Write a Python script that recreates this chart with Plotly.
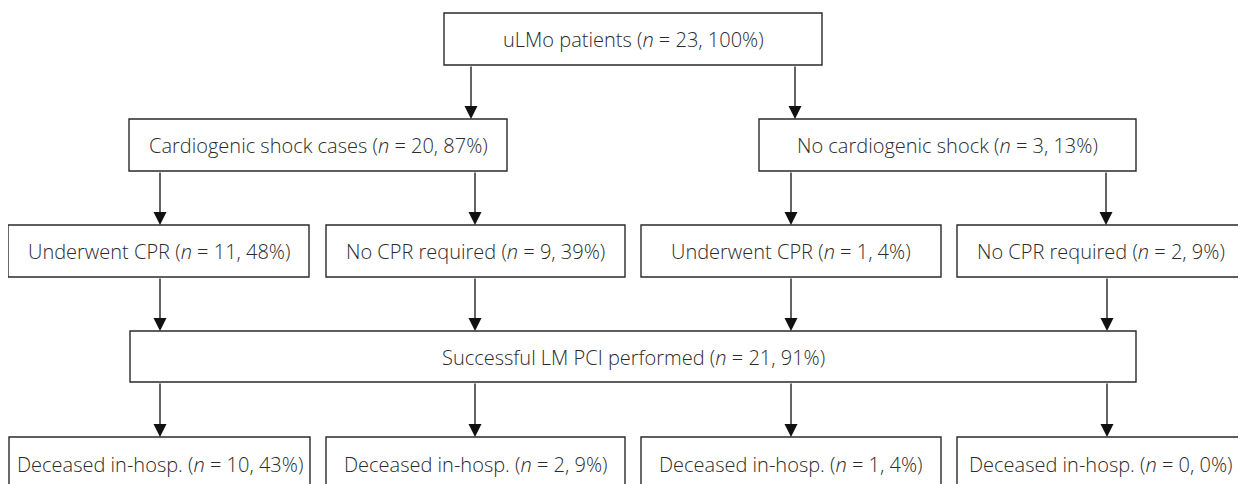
import plotly.graph_objects as go

# ---- data ----
labels = [
    "uLMo patients",
    "Cardiogenic shock cases", "No cardiogenic shock",
    "Underwent CPR", "No CPR required", "Underwent CPR", "No CPR required",
    "Successful LM PCI performed",
    "Deceased in-hosp.", "Deceased in-hosp.", "Deceased in-hosp.", "Deceased in-hosp.",
]
n_values = [23, 20, 3, 11, 9, 1, 2, 21, 10, 2, 1, 0]
pct_values = [100, 87, 13, 48, 39, 4, 9, 91, 43, 9, 4, 0]

# ---- layout (pixel geometry of boxes) ----
boxes = [
    (444, 822, 13, 65),
    (129, 507, 119, 171), (759, 1136, 119, 171),
    (8, 309, 225, 277), (326, 625, 225, 277), (641, 941, 225, 277), (957, 1244, 225, 277),
    (130, 1136, 331, 382),
    (9, 310, 437, 500), (326, 625, 437, 500), (641, 941, 437, 500), (957, 1244, 437, 500),
]
text_y = [39, 145, 145, 251, 251, 251, 251, 357, 464, 464, 464, 464]
# arrows: (x, y_from, y_to)
arrows = [
    (471, 65, 119), (795, 65, 119),
    (160, 171, 225), (475, 171, 225), (791, 171, 225), (1106, 171, 225),
    (160, 277, 331), (475, 277, 331), (791, 277, 331), (1107, 277, 331),
    (160, 382, 437), (475, 382, 437), (791, 382, 437), (1107, 382, 437),
]

W, H = 1246, 484
OFF = 8  # page body margin
fig = go.Figure()
fig.add_trace(go.Scatter(x=[OFF, W + OFF], y=[OFF, H + OFF], mode="markers", marker=dict(opacity=0),
                         hoverinfo="skip", showlegend=False))

shapes = []
annotations = []
for (x0, x1, y0, y1), lab, n, p, ty in zip(boxes, labels, n_values, pct_values, text_y):
    shapes.append(dict(type="rect", xref="x", yref="y", x0=x0, x1=x1, y0=y0, y1=y1,
                       line=dict(color="#2a2a2a", width=1.4), fillcolor="white", layer="below"))
    annotations.append(dict(x=(x0 + x1) / 2, y=ty, xref="x", yref="y",
                            text=f"{lab} (<i>n</i> = {n}, {p}%)", showarrow=False,
                            font=dict(family="Open Sans", size=20, color="#2b2b2b", weight=300),
                            xanchor="center", yanchor="middle"))
for x, y0, y1 in arrows:
    annotations.append(dict(x=x, y=y1, ax=x, ay=y0, xref="x", yref="y", axref="x", ayref="y",
                            text="", showarrow=True, arrowhead=2, arrowsize=2.0, arrowwidth=1.3,
                            arrowcolor="#111111", standoff=0, startstandoff=0))

fig.update_layout(
    width=W, height=H, margin=dict(l=0, r=0, t=0, b=0),
    paper_bgcolor="white", plot_bgcolor="white",
    xaxis=dict(range=[OFF, W + OFF], visible=False, fixedrange=True),
    yaxis=dict(range=[H + OFF, OFF], visible=False, fixedrange=True),
    shapes=shapes, annotations=annotations, showlegend=False,
)
fig.write_html("out.html")
